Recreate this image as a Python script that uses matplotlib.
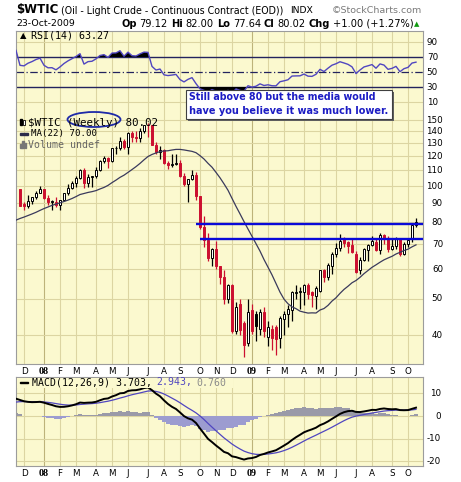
import numpy as np
import pandas as pd
import matplotlib
matplotlib.use("Agg")
import matplotlib.pyplot as plt
import matplotlib.transforms as mtransforms
from matplotlib.patches import Ellipse, Rectangle

# ---------------------------------------------------------------- data
# weekly bars (week ending Friday)
week_end = pd.date_range("2007-11-30", periods=100, freq="W-FRI")

opens = [98.2, 89.5, 88.3, 91.3, 93.3, 96.0, 97.9, 92.7, 90.6, 90.7,
         89.0, 91.8, 95.5, 98.8, 101.8, 105.2, 110.2, 101.8, 105.6, 106.2,
         110.1, 116.7, 118.5, 116.3, 126.0, 126.3, 132.2, 127.4, 138.5, 134.9,
         134.6, 140.2, 145.3, 145.1, 128.9, 123.3, 125.1, 115.2, 113.8, 114.6,
         115.5, 106.2, 101.2, 104.6, 106.9, 93.9, 77.7, 71.9, 64.2, 67.8,
         61.0, 57.0, 49.9, 54.4, 41.0, 48.5, 43.0, 38.2, 46.7, 45.6,
         41.6, 46.0, 39.5, 41.6, 42.0, 39.3, 44.2, 45.6, 46.7, 51.8,
         52.0, 52.0, 54.3, 52.0, 51.0, 52.6, 59.6, 57.0, 61.0, 65.9,
         68.2, 72.0, 70.7, 69.5, 65.9, 59.8, 63.5, 67.5, 69.6, 70.9,
         67.5, 73.9, 72.7, 68.0, 69.3, 72.0, 66.0, 70.0, 72.5, 78.5]
highs = [98.4, 90.6, 94.6, 93.5, 97.0, 100.1, 98.0, 94.5, 91.5, 93.2,
         92.0, 96.0, 101.3, 103.0, 106.5, 111.0, 111.8, 107.9, 106.5, 112.2,
         117.0, 119.9, 119.5, 126.2, 127.8, 135.1, 133.7, 139.1, 139.9, 139.9,
         143.0, 145.9, 147.3, 145.1, 131.0, 127.8, 125.8, 116.3, 122.0, 121.9,
         117.1, 108.2, 104.6, 110.0, 109.0, 94.0, 83.0, 75.0, 68.4, 71.2,
         61.3, 59.6, 54.8, 54.6, 49.0, 50.0, 43.5, 50.0, 48.5, 46.5,
         47.0, 47.5, 43.5, 42.5, 42.5, 45.0, 46.5, 48.0, 52.5, 54.5,
         53.7, 54.8, 55.0, 52.5, 54.0, 59.8, 60.1, 62.3, 66.5, 70.3,
         74.3, 73.0, 71.5, 72.5, 66.9, 64.6, 68.5, 69.9, 73.4, 72.0,
         74.7, 74.5, 73.4, 72.5, 73.0, 72.8, 71.0, 71.9, 78.9, 82.0]
lows = [88.4, 86.2, 87.5, 89.5, 92.5, 95.5, 92.3, 89.2, 86.1, 88.0,
        86.1, 91.0, 94.5, 98.0, 99.6, 104.5, 98.7, 99.5, 99.6, 104.9,
        109.5, 115.0, 111.8, 116.0, 121.5, 124.5, 125.7, 121.6, 130.9, 131.2,
        131.4, 138.2, 135.1, 128.3, 121.9, 118.2, 114.6, 111.3, 112.3, 114.0,
        105.5, 100.1, 90.5, 104.0, 91.5, 77.0, 68.6, 63.0, 61.3, 60.2,
        54.7, 48.3, 48.8, 40.5, 40.3, 40.0, 35.0, 37.5, 40.3, 38.5,
        40.0, 39.5, 37.5, 36.5, 35.5, 37.0, 40.0, 42.0, 43.5, 50.0,
        47.0, 48.0, 50.0, 47.5, 47.0, 52.0, 55.6, 56.0, 58.4, 64.6,
        67.0, 68.6, 66.3, 66.3, 58.5, 58.3, 63.2, 63.0, 69.1, 66.9,
        66.0, 70.0, 66.7, 67.5, 67.8, 65.1, 65.5, 68.9, 71.0, 77.6]
closes = [88.7, 88.3, 91.3, 93.3, 96.0, 97.9, 92.7, 90.6, 90.7, 89.0,
          91.8, 95.5, 98.8, 101.8, 105.2, 110.2, 101.8, 105.6, 106.2, 110.1,
          116.7, 118.5, 116.3, 126.0, 126.3, 132.2, 127.4, 138.5, 134.9, 134.6,
          140.2, 145.3, 145.1, 128.9, 123.3, 125.1, 115.2, 113.8, 114.6, 115.5,
          106.2, 101.2, 104.6, 106.9, 93.9, 77.7, 71.9, 64.2, 67.8, 61.0,
          57.0, 49.9, 54.4, 41.0, 47.5, 41.2, 37.6, 46.0, 41.0, 42.4,
          46.0, 41.0, 42.0, 39.3, 39.0, 44.4, 45.6, 47.0, 52.0, 52.2,
          52.3, 54.5, 51.5, 51.2, 53.5, 59.6, 57.0, 61.4, 65.9, 68.2,
          71.5, 70.3, 69.0, 66.6, 59.0, 63.5, 67.8, 69.5, 71.3, 67.5,
          73.9, 72.7, 68.0, 69.3, 72.0, 66.0, 70.0, 71.8, 78.5, 80.02]

# weekly closes of 2007 preceding the plotted range (indicator warm-up)
earlier_closes = [56.3, 53.0, 52.0, 55.4, 59.0, 59.9, 59.4, 61.1, 61.6, 60.1,
                  57.1, 62.3, 65.9, 64.3, 63.6, 63.4, 66.5, 61.9, 62.4, 64.9,
                  65.2, 65.1, 64.8, 68.0, 69.0, 70.7, 72.8, 73.9, 75.6, 77.0,
                  75.5, 71.5, 72.0, 71.1, 74.0, 76.7, 79.1, 81.6, 81.7, 81.2,
                  83.7, 88.6, 91.9, 95.9, 96.3, 95.1, 98.2]

price_ticks = [150, 140, 130, 120, 110, 100, 90, 80, 70, 60, 50, 40]
rsi_ticks = [90, 70, 50, 30, 10]
macd_ticks = [10, 0, -10, -20]

level_values = [79.3, 72.3]
level_from = ["2008-10-03", "2008-10-06"]

# ---------------------------------------------------------------- indicators
n = len(closes)
c_all = pd.Series(earlier_closes + closes, dtype=float)
m = n + 1                      # one extra bar so lines reach the left edge
ma22 = c_all.rolling(22).mean().to_numpy()[-m:]
ema12 = c_all.ewm(span=12, adjust=False).mean()
ema26 = c_all.ewm(span=26, adjust=False).mean()
macd_s = ema12 - ema26
sig_s = macd_s.ewm(span=9, adjust=False).mean()
macd = macd_s.to_numpy()[-m:]
signal = sig_s.to_numpy()[-m:]
hist = macd - signal
delta = c_all.diff()
gain = delta.clip(lower=0).ewm(alpha=1 / 14, adjust=False).mean()
loss = (-delta.clip(upper=0)).ewm(alpha=1 / 14, adjust=False).mean()
rsi = (100 - 100 / (1 + gain / loss)).to_numpy()[-m:]

# ---------------------------------------------------------------- style
W, H = 461, 482
BG = "#fbf9cf"
GRID = "#dcd5a2"
GRID_YEAR = "#bdb37a"
SPINE = "#9c9c9c"
RED = "#cc1030"
RSI_C = "#5046c0"
NAVY = "#23235e"
BLUE = "#0a0ad8"
TXT_BLUE = "#1c1cc4"

fig = plt.figure(figsize=(W / 100, H / 100), dpi=100)
fig.patch.set_facecolor("white")
renderer = fig.canvas.get_renderer()


def axes_px(x0, y0, x1, y1):
    return fig.add_axes([x0 / W, 1 - y1 / H, (x1 - x0) / W, (y1 - y0) / H])


def fy(py):
    return 1 - py / H


def fit_text(s, x0, x1, y, size=8, **kw):
    t = fig.text(x0 / W, fy(y), s, fontsize=size, va="center", ha="left", **kw)
    w = t.get_window_extent(renderer).width
    t.set_fontsize(size * (x1 - x0) / w)
    return t


def chain(x, y, parts, size, gap=3.0, **common):
    arts = []
    for s, kw in parts:
        props = dict(common)
        props.update(kw)
        t = fig.text(x / W, fy(y), s, fontsize=size, va="center", ha="left", **props)
        arts.append(t)
        x = t.get_window_extent(renderer).x1 + gap
    return arts, x - gap


def chain_fit(x0, x1, y, parts, gap=3.0, **common):
    arts, xe = chain(x0, y, parts, 8, gap, **common)
    for a in arts:
        a.remove()
    size = 8 * (x1 - x0 - gap * (len(parts) - 1)) / (xe - x0 - gap * (len(parts) - 1))
    return chain(x0, y, parts, size, gap, **common)


def rect_px(x, y, w, h, **kw):
    r = Rectangle((x, H - y - h), w, h, transform=mtransforms.IdentityTransform(), **kw)
    fig.add_artist(r)
    return r


x = np.arange(n)
xi = np.arange(-1, n)
XLIM = (-1, 100.75)

ax_r = axes_px(16, 31, 423, 109)
ax_p = axes_px(16, 109, 423, 364)
ax_m = axes_px(16, 377, 423, 466)

# month grid positions: first bar whose week starts in a new month
mondays = week_end - pd.Timedelta(days=4)
tick_idx = [i for i in range(1, n) if mondays[i].month != mondays[i - 1].month]
tick_lab = [("%02d" % (mondays[i].year % 100)) if mondays[i].month == 1
            else mondays[i].strftime("%b")[0] for i in tick_idx]

for ax in (ax_r, ax_p, ax_m):
    ax.set_facecolor(BG)
    ax.set_xlim(*XLIM)
    ax.set_xticks([])
    ax.set_yticks([])
    for sp in ax.spines.values():
        sp.set_color(SPINE)
        sp.set_linewidth(0.8)
    for i, lab in zip(tick_idx, tick_lab):
        year = lab.isdigit()
        ax.axvline(i, color=GRID_YEAR if year else GRID, lw=0.8, zorder=0)

ax_r.spines["bottom"].set_visible(False)
ax_p.spines["top"].set_visible(False)

# ---------------------------------------------------------------- RSI panel
ax_r.set_ylim(0.67, 104.7)
for v in (90, 10):
    ax_r.axhline(v, color=GRID, lw=0.8, zorder=0)
ax_r.axhline(70, color=NAVY, lw=1.0, zorder=1)
ax_r.axhline(30, color=NAVY, lw=1.0, zorder=1)
ax_r.axhline(50, color=NAVY, lw=0.9, ls=(0, (6, 2, 1, 2)), zorder=1)
ax_r.fill_between(xi, 70, rsi, where=rsi > 70, interpolate=True, color="black", lw=0, zorder=2)
ax_r.fill_between(xi, 30, rsi, where=rsi < 30, interpolate=True, color="black", lw=0, zorder=2)
ax_r.plot(xi, rsi, color=RSI_C, lw=1.0, zorder=3)
tr_r = mtransforms.blended_transform_factory(ax_r.transAxes, ax_r.transData)
for v in rsi_ticks:
    ax_r.text((438 - 16) / 407, v, str(v), transform=tr_r, ha="right", va="center",
              fontsize=6.3, clip_on=False)

# ---------------------------------------------------------------- price panel
ax_p.set_yscale("log")
ax_p.set_ylim(33.5, 160.5)
ax_p.yaxis.set_major_locator(matplotlib.ticker.NullLocator())
ax_p.yaxis.set_minor_locator(matplotlib.ticker.NullLocator())
for v in price_ticks:
    ax_p.axhline(v, color=GRID, lw=0.8, zorder=0)
tr_p = mtransforms.blended_transform_factory(ax_p.transAxes, ax_p.transData)
for v in price_ticks:
    ax_p.text((443 - 16) / 407, v, str(v), transform=tr_p, ha="right", va="center",
              fontsize=6.3, clip_on=False)

o = np.array(opens)
h = np.array(highs)
l = np.array(lows)
c = np.array(closes)
prev = np.concatenate([[earlier_closes[-1]], c[:-1]])
col = np.where(c >= prev, "black", RED)
hollow = c >= o
ax_p.vlines(x, l, h, colors=col, lw=0.9, zorder=3)
bottom = np.minimum(o, c)
top = np.maximum(o, c)
top = np.maximum(top, bottom * 1.004)
face = [("white" if hh else cc) for hh, cc in zip(hollow, col)]
ax_p.bar(x, top - bottom, bottom=bottom, width=0.72, color=face, edgecolor=col,
         linewidth=0.7, zorder=4)

ax_p.plot(xi, ma22, color="#3a3a5c", lw=0.9, zorder=5)

for v, d0 in zip(level_values, level_from):
    i0 = int(np.searchsorted(week_end, pd.Timestamp(d0)))
    ax_p.plot([i0, XLIM[1]], [v, v], color=BLUE, lw=1.7, zorder=6, solid_capstyle="butt")

# ---------------------------------------------------------------- MACD panel
ax_m.set_ylim(-22.1, 17.3)
for v in macd_ticks:
    ax_m.axhline(v, color=GRID, lw=0.8, zorder=0)
hcol = np.where(hist >= 0, "#9a9aa8", "#9c9cd0")
ax_m.bar(xi, hist, width=0.85, color=hcol, lw=0, zorder=2)
ax_m.plot(xi, signal, color=RSI_C, lw=0.9, zorder=3)
ax_m.plot(xi, macd, color="black", lw=1.4, zorder=4)
tr_m = mtransforms.blended_transform_factory(ax_m.transAxes, ax_m.transData)
for v in macd_ticks:
    ax_m.text((441 - 16) / 407, v, str(v), transform=tr_m, ha="right", va="center",
              fontsize=6.3, clip_on=False)

# month labels under price and MACD panels
for ax, ypix in ((ax_p, 372), (ax_m, 473)):
    trx = mtransforms.blended_transform_factory(ax.transData, fig.transFigure)
    for i, lab in zip(tick_idx, tick_lab):
        if lab.isdigit():
            ax.text(i, fy(ypix), lab, transform=trx, ha="center", va="center",
                    fontsize=7.2, fontweight="bold", family="Liberation Serif", clip_on=False)
        else:
            ax.text(i, fy(ypix), lab, transform=trx, ha="center", va="center",
                    fontsize=6.3, clip_on=False)

# ---------------------------------------------------------------- header
fit_text("$WTIC", 16, 58, 10, fontweight="bold")
fit_text("(Oil - Light Crude - Continuous Contract (EOD))", 61, 286, 10.5)
fit_text("INDX", 290, 313, 10.5)
fit_text("\u00a9StockCharts.com", 332, 422, 10.5, color="#7a7a7a")
fit_text("23-Oct-2009", 16, 75, 24)
chain_fit(121, 413, 24, [("Op", dict(fontweight="bold")), ("79.12", {}),
                         ("Hi", dict(fontweight="bold")), ("82.00", {}),
                         ("Lo", dict(fontweight="bold")), ("77.64", {}),
                         ("Cl", dict(fontweight="bold")), ("80.02", {}),
                         ("Chg", dict(fontweight="bold")), ("+1.00 (+1.27%)", {})])
fig.text(417 / W, fy(24.5), "\u25b2", fontsize=5, color="#109a10", ha="center", va="center")

# ---------------------------------------------------------------- legends
MONO = "DejaVu Sans Mono"
fig.text(23 / W, fy(36), "\u25b2", fontsize=6, ha="center", va="center")
fit_text("RSI(14) 63.27", 31, 110, 36, family=MONO)

rect_px(20, 119, 2, 6, color="black")
rect_px(23, 120, 2, 5, facecolor="white", edgecolor="black", lw=0.6)
fit_text("$WTIC (Weekly) 80.02", 28, 160, 122.5, family=MONO)
rect_px(20, 133, 8, 1.6, color="#2a2a4a")
fit_text("MA(22) 70.00", 31, 98, 133.5, family=MONO)
for k, hh in enumerate((4, 7, 5)):
    rect_px(20 + 2.3 * k, 148 - hh, 1.6, hh, color="#777777")
fit_text("Volume undef", 28, 100, 144.5, family=MONO, color="#666666")

fig.add_artist(Ellipse((94 / W, fy(119.5)), 53 / W, 15 / H, transform=fig.transFigure,
                       fill=False, edgecolor="#1e2aa8", lw=1.3))

# MACD legend with background patch
rect_px(17, 377.5, 216, 10, facecolor=BG, edgecolor="none", zorder=5)
rect_px(20, 381.5, 8, 1.6, color="black", zorder=6)
chain(32, 382.5, [("MACD(12,26,9) 3.703,", {}), ("2.943,", dict(color=RSI_C)),
                  ("0.760", dict(color="#8a8a8a"))], 7.1, gap=4, family=MONO, zorder=6)

# ---------------------------------------------------------------- annotation
rect_px(188, 92, 206, 29, facecolor="#606060", edgecolor="none", zorder=7)
rect_px(186, 90, 206, 29, facecolor="white", edgecolor="#404040", lw=0.8, zorder=8)
fit_text("Still above 80 but the media would", 188.5, 375, 97.5,
         fontweight="bold", color=TXT_BLUE, zorder=9)
fit_text("have you believe it was much lower.", 188.5, 387, 111,
         fontweight="bold", color=TXT_BLUE, zorder=9)

fig.savefig("out.png", dpi=100, facecolor="white")
